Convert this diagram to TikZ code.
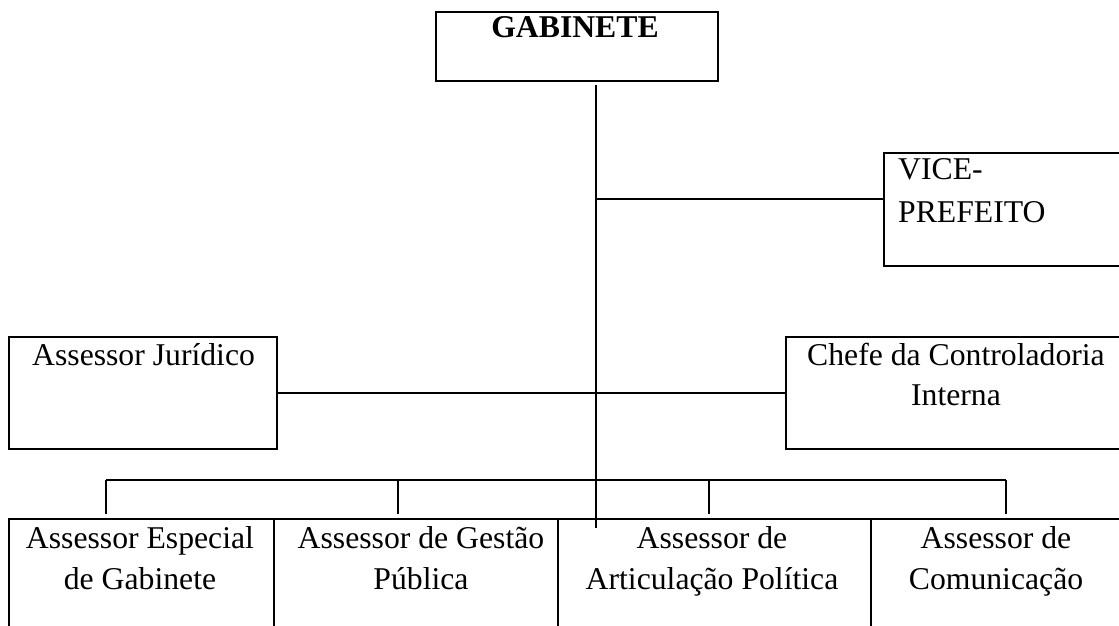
\documentclass[tikz,border=0pt]{standalone}
\usepackage{fontspec}
\setmainfont{Liberation Serif}
\usetikzlibrary{calc}
\begin{document}
\begin{tikzpicture}[x=1pt,y=-1pt,
  box/.style={draw,line width=2pt,inner sep=0pt,anchor=north west},
  conn/.style={line width=1.6pt},
  txt/.style={inner sep=0pt,anchor=base,font=\fontsize{31.7}{45}\selectfont,align=center},
  ltxt/.style={inner sep=0pt,anchor=base west,font=\fontsize{31.7}{45}\selectfont,align=left}]
\useasboundingbox (0,0) rectangle (1119,626);
\clip (0,0) rectangle (1119,626);
% boxes
\node[box,minimum width=282pt,minimum height=69pt] (gab) at (435,11) {};
\node[box,minimum width=260pt,minimum height=113pt] (vice) at (883,152) {};
\node[box,minimum width=268pt,minimum height=112pt] (jur) at (8,336) {};
\node[box,minimum width=360pt,minimum height=112pt] (chefe) at (785,336) {};
\node[box,minimum width=265pt,minimum height=140pt] (b1) at (8,518) {};
\node[box,minimum width=284pt,minimum height=140pt] (b2) at (273,518) {};
\node[box,minimum width=313pt,minimum height=140pt] (b3) at (557,518) {};
\node[box,minimum width=280pt,minimum height=140pt] (b4) at (870,518) {};
% texts (anchor base = baseline of the last line)
\node[txt,font=\fontsize{31.7}{45}\selectfont\bfseries] (tgab) at (575,38) {GABINETE};
\node[ltxt,font=\fontsize{31.7}{43}\selectfont] (tvice) at (898,222) {VICE-\\PREFEITO};
\node[ltxt] (tjur) at (32,365) {Assessor Jurídico};
\node[txt,font=\fontsize{31.7}{40}\selectfont] (tchefe) at (956,405) {Chefe da Controladoria\\Interna};
\node[txt,font=\fontsize{31.7}{41}\selectfont] (t1) at (140,589) {Assessor Especial\\de Gabinete};
\node[txt,font=\fontsize{31.7}{41}\selectfont] (t2) at (421,589) {Assessor de Gestão\\Pública};
\node[txt,font=\fontsize{31.7}{41}\selectfont] (t3) at (712,589) {Assessor de\\Articulação Política};
\node[txt,font=\fontsize{31.7}{41}\selectfont] (t4) at (996,589) {Assessor de\\Comunicação};
% connectors
\coordinate (top) at (596,85);
\coordinate (bot) at (596,528);
\coordinate (jv) at (596,199);
\coordinate (busL) at (106,480);
\coordinate (busR) at (1006,480);
\coordinate (d1) at (106,514);
\coordinate (d2) at (398,514);
\coordinate (d3) at (709,514);
\coordinate (d4) at (1006,514);
\draw[conn] (top) -- (bot);
\draw[conn] (jv) -- (jv -| vice.west);
\draw[conn] (jur.east) -- (chefe.west);
\draw[conn] (busL) -- (busR);
\draw[conn] (busL) -- (d1);
\draw[conn] (d2 |- busL) -- (d2);
\draw[conn] (d3 |- busL) -- (d3);
\draw[conn] (busR) -- (d4);
\end{tikzpicture}
\end{document}
